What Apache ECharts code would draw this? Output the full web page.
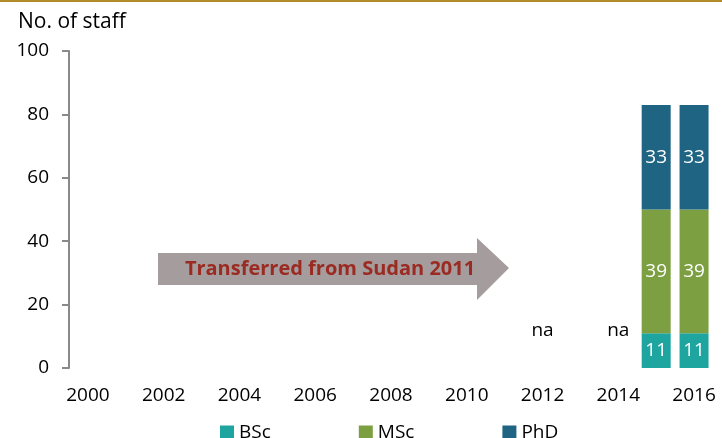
<!DOCTYPE html>
<html><head><meta charset="utf-8">
<script src="https://cdn.jsdelivr.net/npm/echarts@6/dist/echarts.min.js"></script>
<style>html,body{margin:0;padding:0;background:#fff}#c{width:722px;height:438px}</style>
</head><body><div id="c"></div>
<script>
const years = ['2000','2001','2002','2003','2004','2005','2006','2007','2008','2009','2010','2011','2012','2013','2014','2015','2016'];
const bsc = [null,null,null,null,null,null,null,null,null,null,null,null,null,null,null,11,11];
const msc = [null,null,null,null,null,null,null,null,null,null,null,null,null,null,null,39,39];
const phd = [null,null,null,null,null,null,null,null,null,null,null,null,null,null,null,33,33];
const naMarks = [null,null,null,null,null,null,null,null,null,null,null,null,0,null,0,null,null];
const yTicks = {min:0, max:100, interval:20};
const arrowText = 'Transferred from Sudan 2011';
const FONT = 'Open Sans';

const chart = echarts.init(document.getElementById('c'), null, {renderer:'canvas'});
const lbl = {show:true, position:'inside', color:'#fff', fontSize:19, fontFamily:FONT};
chart.setOption({
  animation:false,
  textStyle:{fontFamily:FONT},
  title:{text:'No. of staff', left:13, top:7, textStyle:{fontSize:21, fontWeight:'normal', color:'#000', fontFamily:FONT}},
  grid:{left:69, right:9, top:51, bottom:70},
  legend:{data:['BSc','MSc','PhD'], left:220, top:423, padding:0, itemWidth:14, itemHeight:14, itemGap:88,
    textStyle:{fontSize:19, color:'#000', fontFamily:FONT}, icon:'rect'},
  xAxis:{type:'category', data:years, axisLine:{show:false}, axisTick:{show:false},
    axisLabel:{interval:1, fontSize:19, color:'#000', margin:18, fontFamily:FONT}},
  yAxis:{type:'value', min:yTicks.min, max:yTicks.max, interval:yTicks.interval,
    axisLine:{show:true, lineStyle:{color:'#898989', width:2}},
    axisTick:{show:true, length:7, lineStyle:{color:'#898989', width:2}},
    splitLine:{show:false},
    axisLabel:{fontSize:19, color:'#000', margin:20, fontFamily:FONT}},
  series:[
    {name:'BSc', type:'bar', stack:'t', data:bsc, barWidth:29, itemStyle:{color:'#1fa5a0'}, label:lbl},
    {name:'MSc', type:'bar', stack:'t', data:msc, itemStyle:{color:'#7b9f41'}, label:lbl},
    {name:'PhD', type:'bar', stack:'t', data:phd, itemStyle:{color:'#1f6483'}, label:lbl},
    {name:'na', type:'bar', stack:'t', data:naMarks, itemStyle:{color:'transparent'},
      label:{show:true, position:'top', distance:28, formatter:'na', color:'#000', fontSize:19, fontFamily:FONT}}
  ],
  graphic:[
    {type:'rect', left:0, top:0, shape:{width:722, height:2}, style:{fill:'#b38b2a'}},
    {type:'polygon', shape:{points:[[158,253],[477,253],[477,238],[509,268],[477,300],[477,285],[158,285]]},
      style:{fill:'#a59d9d'}},
    {type:'text', x:330, y:269, style:{text:arrowText, fill:'#9b2b22', font:'bold 20px "Open Sans"', textAlign:'center', textVerticalAlign:'middle'}}
  ]
});
</script></body></html>
